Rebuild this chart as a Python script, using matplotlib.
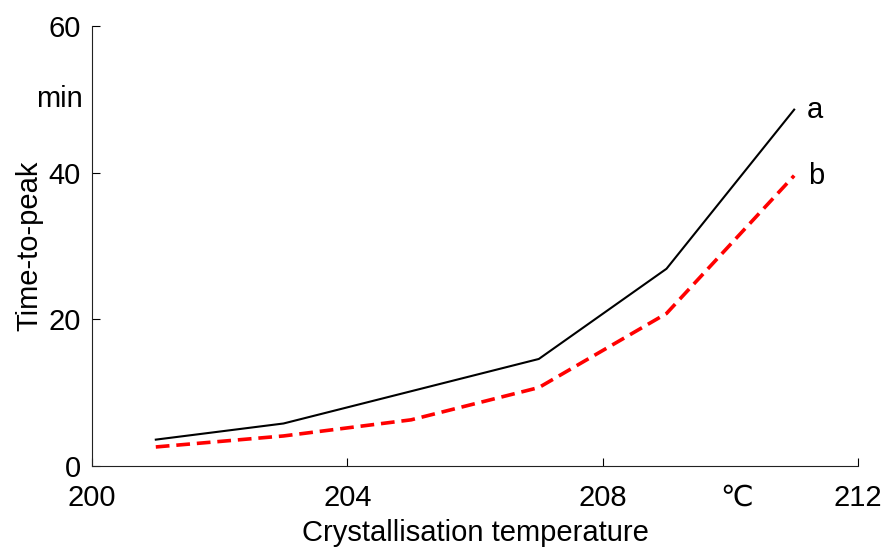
import matplotlib
matplotlib.use('Agg')
import matplotlib.pyplot as plt
import matplotlib.transforms as mtransforms

plt.rcParams['font.family'] = ['Liberation Sans', 'DejaVu Sans']

# crystallisation temperature (degC)
temp = [201, 203, 205, 207, 209, 211]
# time-to-peak (min)
time_a = [3.6, 5.8, 10.2, 14.6, 26.9, 48.6]
time_b = [2.6, 4.1, 6.3, 10.7, 20.8, 39.6]

xticks = [200, 204, 208, 212]
yticks = [0, 20, 40, 60]

fig = plt.figure(figsize=(8.86, 5.54), dpi=100)
ax = fig.add_axes([0.1038, 0.1588, 0.8646, 0.7942])

ax.plot(temp, time_a, color='black', lw=1.5)
ax.plot(temp, time_b, color='red', lw=2.6, ls=(0, (3.8, 1.9)))

ax.text(temp[-1] + 0.2, time_a[-1], 'a', fontsize=21, va='center', ha='left')
ax.text(temp[-1] + 0.22, time_b[-1], 'b', fontsize=21, va='center', ha='left')

ax.set_xlim(200, 212)
ax.set_ylim(0, 60)
ax.set_xticks(xticks)
ax.set_yticks(yticks)
ax.tick_params(direction='in', length=6, width=0.8, labelsize=21, colors='black')
ax.tick_params(axis='x', pad=13)
ax.tick_params(axis='y', pad=8)

for s in ['top', 'right']:
    ax.spines[s].set_visible(False)
for s in ['left', 'bottom']:
    ax.spines[s].set_linewidth(0.8)
    ax.spines[s].set_color('#222222')

ax.set_xlabel('Crystallisation temperature', fontsize=21, labelpad=5)
ax.set_ylabel('Time-to-peak', fontsize=21, labelpad=4)

# units
ax.text(-0.012, 50, 'min', fontsize=21, ha='right', va='center',
        transform=mtransforms.blended_transform_factory(ax.transAxes, ax.transData))
off = mtransforms.ScaledTranslation(0, -13 / 72, fig.dpi_scale_trans)
ax.text(210.1, 0, '\u2103', fontsize=21, ha='center', va='top',
        transform=ax.get_xaxis_transform() + off)

plt.savefig('out.png', dpi=100)
